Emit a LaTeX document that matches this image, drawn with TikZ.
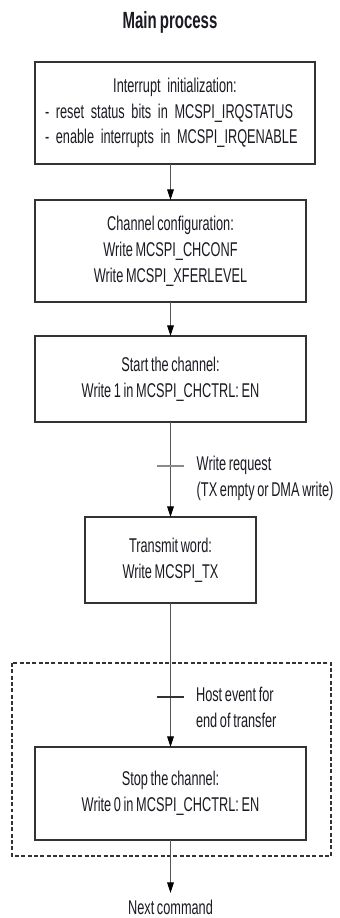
\documentclass[tikz,border=0pt]{standalone}
\usepackage{fontspec}
\usepackage{xcolor}
\usepackage{tikz}
\usetikzlibrary{arrows.meta, positioning, calc}
\newfontfamily\narrowsf[FakeStretch=0.64, WordSpace=0.75]{Liberation Sans}
\definecolor{boxline}{HTML}{333333}
\definecolor{flowgray}{HTML}{555555}
\definecolor{tickgray}{HTML}{8A8A8A}
\definecolor{inktext}{HTML}{1A1A22}
\tikzset{
    procbox/.style={
        rectangle, draw=boxline, line width=1.1pt,
        minimum width=8.13cm, minimum height=#1,
        inner sep=0pt, outer sep=0pt,
        font=\narrowsf\fontsize{17}{22}\selectfont, text=inktext, align=center
    },
    procbox/.default=2.58cm,
    notetext/.style={
        font=\narrowsf\fontsize{17}{22}\selectfont, text=inktext,
        align=left, inner sep=0pt, anchor=north west
    },
    flowarrow/.style={
        -{Triangle[length=0.32cm, width=0.2cm, color=black]}, line width=0.8pt, color=flowgray
    },
    evtick/.style={
        line width=#1
    },
    evtick/.default=1.7pt,
    groupbox/.style={
        draw=boxline, line width=0.9pt, dash pattern=on 3.4pt off 2pt
    },
}
\begin{document}
\begin{tikzpicture}
    \useasboundingbox (0,0) rectangle (10.2,-27.54);

    % Title
    \node[font=\narrowsf\bfseries\fontsize{20}{24}\selectfont, text=inktext, anchor=base] (title) at (5.1,-0.87) {Main process};

    % Process steps
    \node[procbox=3.06cm, minimum width=8.4cm, text width=7.8cm, align=left] (irqinit) at (5.25,-3.39)
        {\makebox[\linewidth]{Interrupt initialization:}\\- reset status bits in MCSPI\_IRQSTATUS\\- enable interrupts in MCSPI\_IRQENABLE};
    \node[procbox=3.06cm, below=1.08cm of irqinit.south west, anchor=north west] (chconf)
        {Channel configuration:\\Write MCSPI\_CHCONF\\Write MCSPI\_XFERLEVEL};
    \node[procbox, below=1.02cm of chconf] (chstart) {Start the channel:\\Write 1 in MCSPI\_CHCTRL: EN};
    \node[procbox, minimum width=5.13cm, below=2.85cm of chstart] (txword) {Transmit word:\\Write MCSPI\_TX};
    \node[procbox=2.79cm, below=4.32cm of txword] (chstop) {Stop the channel:\\Write 0 in MCSPI\_CHCTRL: EN};
    \node[font=\narrowsf\fontsize{17}{22}\selectfont, text=inktext, inner sep=0.2cm, below=1.59cm of chstop] (nextcmd) {Next command};

    % Events on the flow
    \coordinate[below=1.32cm of chstart] (wreqtick);
    \coordinate[below=2.82cm of txword] (hosttick);
    \node[notetext] (wreqlabel) at ([xshift=0.78cm, yshift=0.31cm]wreqtick) {Write request\\(TX empty or DMA write)};
    \node[notetext] (hostlabel) at ([xshift=0.76cm, yshift=0.31cm]hosttick) {Host event for\\end of transfer};

    % End of transfer group
    \draw[groupbox] ([xshift=-0.69cm, yshift=2.52cm]chstop.north west) rectangle ([xshift=0.75cm, yshift=-0.48cm]chstop.south east);

    % Arrows
    \draw[flowarrow] (irqinit.south -| chconf.north) -- (chconf.north);
    \draw[flowarrow] (chconf) -- (chstart);
    \draw[flowarrow] (chstart) -- (txword);
    \draw[flowarrow] (txword) -- (chstop);
    \draw[flowarrow] (chstop) -- (nextcmd);

    % Ticks
    \draw[evtick, tickgray] ([xshift=-0.42cm]wreqtick) -- ([xshift=0.39cm]wreqtick);
    \draw[evtick=1.1pt, boxline] ([xshift=-0.42cm]hosttick) -- ([xshift=0.39cm]hosttick);

\end{tikzpicture}
\end{document}
